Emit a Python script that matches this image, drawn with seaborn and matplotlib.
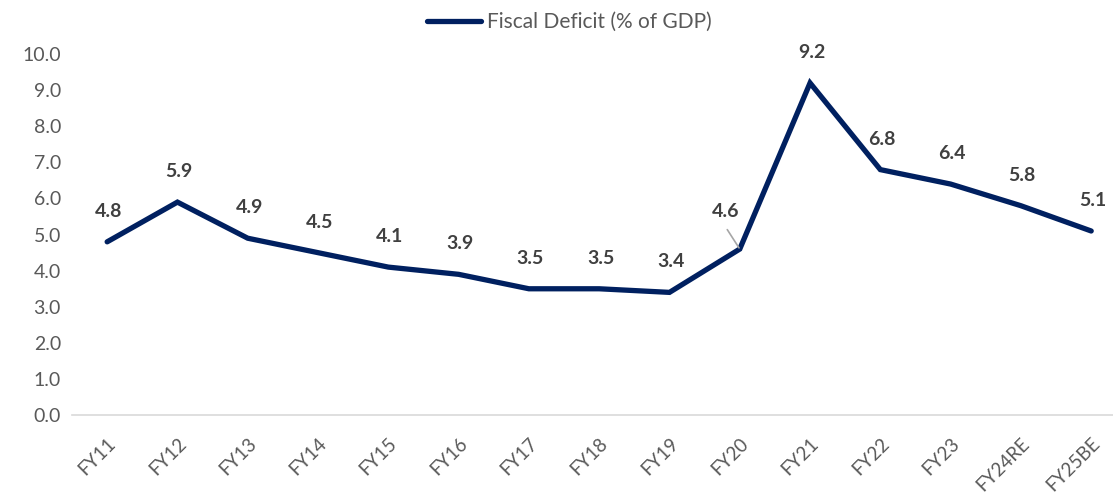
import pandas as pd
import seaborn as sns
from matplotlib import pyplot as plt

years = ["FY11", "FY12", "FY13", "FY14", "FY15", "FY16", "FY17", "FY18",
         "FY19", "FY20", "FY21", "FY22", "FY23", "FY24RE", "FY25BE"]
deficit = [4.8, 5.9, 4.9, 4.5, 4.1, 3.9, 3.5, 3.5, 3.4, 4.6, 9.2, 6.8, 6.4, 5.8, 5.1]
series_name = "Fiscal Deficit (% of GDP)"
y_ticks = [0, 1, 2, 3, 4, 5, 6, 7, 8, 9, 10]

df = pd.DataFrame({"year": years, "value": deficit, "series": series_name})

sns.set_style("white")
plt.rcParams["font.family"] = ["Lato", "DejaVu Sans"]

fig = plt.figure(figsize=(11.13, 4.96), dpi=100)
ax = fig.add_axes([0.0647, 0.163, 0.9353, 0.728])

sns.lineplot(data=df, x="year", y="value", hue="series", sort=False,
             palette=["#002060"], linewidth=3.8, ax=ax,
             solid_capstyle="round", solid_joinstyle="miter")

ax.set_ylim(0, 10)
ax.set_xlim(-0.5, 14.31)
ax.set_yticks(y_ticks)
ax.set_yticklabels([f"{v:.1f}" for v in y_ticks])
ax.set_xlabel("")
ax.set_ylabel("")

for side in ["top", "right", "left"]:
    ax.spines[side].set_visible(False)
ax.spines["bottom"].set_color("#d9d9d9")
ax.spines["bottom"].set_linewidth(1.2)

ax.tick_params(axis="y", length=0, pad=8, labelsize=14, labelcolor="#595959")
ax.tick_params(axis="x", length=0, pad=14, labelsize=13.5, labelcolor="#595959")
for lbl in ax.get_xticklabels():
    lbl.set_rotation(45)
    lbl.set_ha("right")
    lbl.set_rotation_mode("anchor")

# data labels
for i, v in enumerate(deficit):
    if years[i] == "FY20":
        # label pushed up-left with a grey leader line
        ax.annotate(f"{v:.1f}", xy=(i, v), xytext=(-10, 27), textcoords="offset points",
                    ha="center", va="center", fontsize=14, fontweight="bold",
                    color="#404040")
        ax.annotate("", xy=(i, v), xytext=(-9, 14), textcoords="offset points",
                    arrowprops=dict(arrowstyle="-", color="#a6a6a6", lw=1.2,
                                    shrinkA=0, shrinkB=1))
    else:
        ax.annotate(f"{v:.1f}", xy=(i, v), xytext=(1, 22), textcoords="offset points",
                    ha="center", va="center", fontsize=14, fontweight="bold",
                    color="#404040")

leg = ax.legend(loc="center", bbox_to_anchor=(0.478, 1.089), frameon=False,
                fontsize=15, handlelength=2.6, handletextpad=0.3)
for t in leg.get_texts():
    t.set_color("#595959")

fig.savefig("out.png", dpi=100)
